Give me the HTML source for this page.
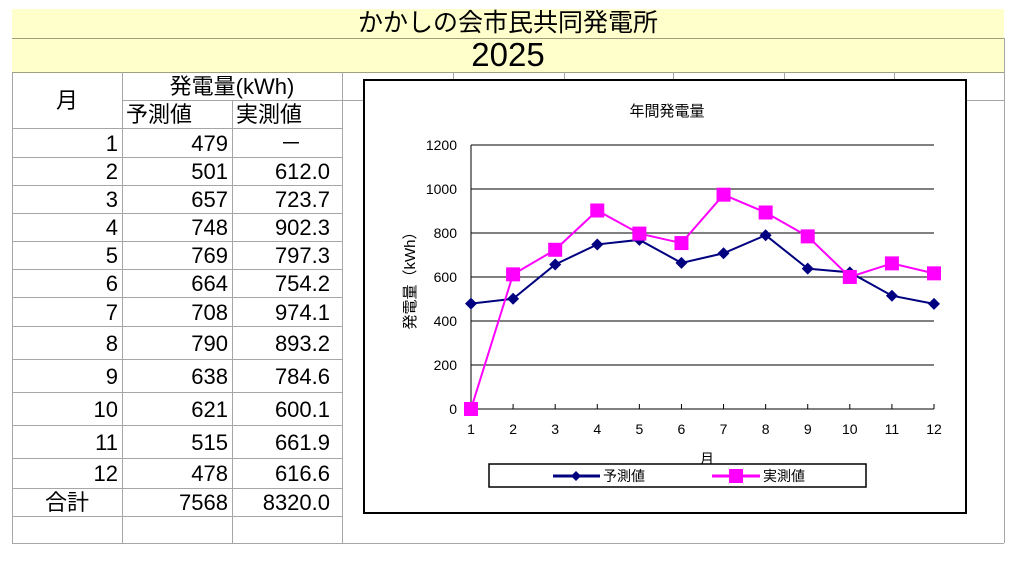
<!DOCTYPE html>
<html><head><meta charset="utf-8">
<style>
body{margin:0;background:#fff;width:1021px;height:564px;overflow:hidden;font-family:"Liberation Sans","Noto Sans CJK JP",sans-serif;}
.abs{position:absolute;}
.hl{position:absolute;height:1px;background:#a6a6a6;}
.vl{position:absolute;width:1px;background:#a6a6a6;}
.cell{position:absolute;font-size:22px;color:#000;line-height:1;}
</style></head><body>
<div class="abs" style="left:12px;top:9px;width:992px;height:63px;background:#ffffcc;"></div>
<div class="hl" style="left:12px;top:38px;width:993px;background:#a0a080"></div>
<div class="hl" style="left:12px;top:72px;width:993px;background:#a0a080"></div>
<div class="vl" style="left:1004px;top:38px;height:505px"></div>
<div class="abs" style="left:12px;top:9px;width:992px;text-align:center;font-size:25px;line-height:29px;">かかしの会市民共同発電所</div>
<div class="abs" style="left:12px;top:38px;width:992px;text-align:center;font-size:33px;line-height:34px;">2025</div>
<div id="grid"></div>
<div class="abs" style="left:363px;top:79px;width:600px;height:431px;border:2px solid #000;background:#fff;"></div>
<svg class="abs" style="left:0;top:0" width="1021" height="564" id="chart"></svg>
<script>
const months=[1,2,3,4,5,6,7,8,9,10,11,12];
const predicted=[479,501,657,748,769,664,708,790,638,621,515,478];
const actual=[0,612.0,723.7,902.3,797.3,754.2,974.1,893.2,784.6,600.1,661.9,616.6];
const actualLabels=["－","612.0","723.7","902.3","797.3","754.2","974.1","893.2","784.6","600.1","661.9","616.6"];
const yTicks=[0,200,400,600,800,1000,1200];
const totalPred="7568", totalAct="8320.0";

const g=document.getElementById('grid');
function line(cls,l,t,s){const d=document.createElement('div');d.className=cls;d.style.left=l+'px';d.style.top=t+'px';if(cls==='hl')d.style.width=s+'px';else d.style.height=s+'px';g.appendChild(d);}
const rows=[128,157,185,213,241,269,297,326,359,392,425,458,488,516,543];
line('vl',12,72,471);line('vl',122,72,471);line('vl',232,100,443);line('vl',342,72,471);
line('hl',122,100,220);
rows.forEach(y=>line('hl',12,y,330));
[453,564,673,784,894].forEach(x=>line('vl',x,72,7));
line('hl',342,100,21);line('hl',967,100,37);line('hl',342,543,662);
function cell(txt,l,w,t,h,align,name){const d=document.createElement('div');d.className='cell';d.textContent=txt;d.style.left=l+'px';d.style.width=w+'px';d.style.top=(t+(h-22)/2+1)+'px';d.style.textAlign=align;


g.appendChild(d);}
cell('月',12,110,72,56,'center','month-header');
cell('発電量(kWh)',122,220,72,28,'center','generation-header');
cell('予測値',126,106,100,28,'left','predicted-header');
cell('実測値',236,106,100,28,'left','actual-header');
months.forEach((m,i)=>{const t=rows[i],h=rows[i+1]-rows[i];
cell(String(m),12,106,t,h,'right','month-cell');
cell(String(predicted[i]),122,106,t,h,'right','predicted-cell');
cell(actualLabels[i],232,i===0?70:98,t,h,'right','actual-cell');});
cell('合計',12,110,488,28,'center','total-label');
cell(totalPred,122,106,488,28,'right','total-predicted');
cell(totalAct,232,98,488,28,'right','total-actual');

const svg=document.getElementById('chart');const NS='http://www.w3.org/2000/svg';
const x0=471,x1=934,yb=409,yt=145;
const xs=m=>x0+(m-1)*(x1-x0)/11;
const ys=v=>yb-v*(yb-yt)/1200;
function el(tag,attrs,name,txt){const e=document.createElementNS(NS,tag);for(const k in attrs)e.setAttribute(k,attrs[k]);


if(txt!==undefined)e.textContent=txt;svg.appendChild(e);return e;}
const F='"Liberation Sans","Noto Sans CJK JP",sans-serif';
el('text',{x:667,y:116,'font-size':15,'text-anchor':'middle','font-family':F},'chart-title','年間発電量');
yTicks.forEach(v=>{el('line',{x1:x0,x2:x1,y1:ys(v),y2:ys(v),stroke:'#000','stroke-width':1},'gridline');
el('text',{x:457,y:ys(v)+5,'font-size':14,'text-anchor':'end','font-family':F},'y-tick-label',String(v));});
el('line',{x1:x0,x2:x0,y1:yt,y2:yb,stroke:'#000'},'y-axis');
months.forEach(m=>{el('line',{x1:xs(m),x2:xs(m),y1:yb,y2:yb-5,stroke:'#000'},'x-tick');
el('text',{x:xs(m),y:434,'font-size':14,'text-anchor':'middle','font-family':F},'x-tick-label',String(m));});
el('text',{x:707,y:464,'font-size':14,'text-anchor':'middle','font-family':F},'x-axis-title','月');
el('text',{x:415,y:277,'font-size':15,'text-anchor':'middle','font-family':F,transform:'rotate(-90 415 277)'},'y-axis-title','発電量（kWh）');
el('polyline',{points:months.map((m,i)=>xs(m)+','+ys(predicted[i])).join(' '),fill:'none',stroke:'#000080','stroke-width':2},'predicted-line');
el('polyline',{points:months.map((m,i)=>xs(m)+','+ys(actual[i])).join(' '),fill:'none',stroke:'#ff00ff','stroke-width':2},'actual-line');
months.forEach((m,i)=>{const x=xs(m),y=ys(predicted[i]);
el('polygon',{points:`${x},${y-6} ${x+6},${y} ${x},${y+6} ${x-6},${y}`,fill:'#000080'},'predicted-point');});
months.forEach((m,i)=>{el('rect',{x:xs(m)-7,y:ys(actual[i])-7,width:14,height:14,fill:'#ff00ff'},'actual-point');});
el('rect',{x:489,y:464,width:377,height:23,fill:'#fff',stroke:'#000','stroke-width':1.5},'legend');
el('line',{x1:553,x2:600,y1:476,y2:476,stroke:'#000080','stroke-width':3},'legend-predicted-line');
el('polygon',{points:'576,471 581,476 576,481 571,476',fill:'#000080'},'legend-predicted-marker');
el('text',{x:603,y:481,'font-size':14,'font-family':F},'legend-predicted-label','予測値');
el('line',{x1:712,x2:760,y1:476,y2:476,stroke:'#ff00ff','stroke-width':3},'legend-actual-line');
el('rect',{x:729,y:469,width:14,height:14,fill:'#ff00ff'},'legend-actual-marker');
el('text',{x:763,y:481,'font-size':14,'font-family':F},'legend-actual-label','実測値');
</script>
</body></html>
